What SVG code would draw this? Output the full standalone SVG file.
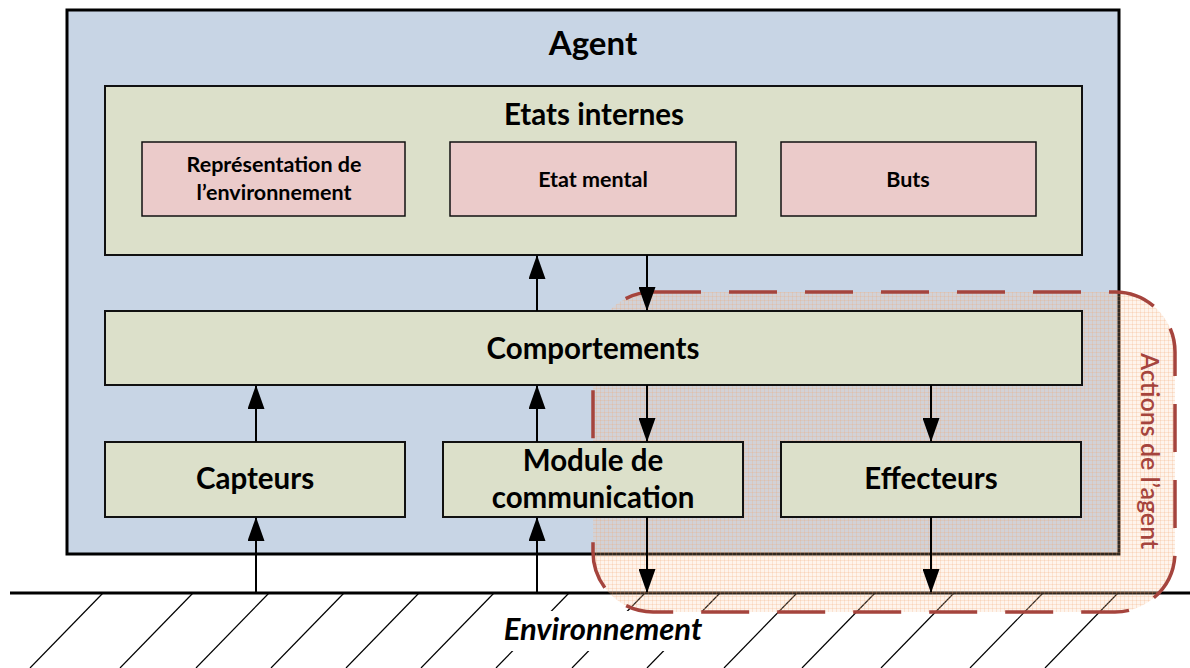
<svg xmlns="http://www.w3.org/2000/svg" width="1190" height="668" viewBox="0 0 1190 668">
<style>
.t{font-family:Lato,"Open Sans","Liberation Sans",sans-serif;font-weight:bold;fill:#000;text-anchor:middle}
.big{font-size:29.5px}
.sub{font-size:21.5px}
.box{fill:#DCE0CA;stroke:#111;stroke-width:2}
.pink{fill:#EBCBCA;stroke:#111;stroke-width:1.5}
.arr{stroke:#000;stroke-width:2;fill:none;marker-end:url(#ah)}
.hatch{stroke:#000;stroke-width:1.2}
</style>
<defs>
<marker id="ah" markerUnits="userSpaceOnUse" markerWidth="24" markerHeight="17" refX="23" refY="8.5" orient="auto" viewBox="0 0 24 17">
<path d="M0,0 L24,8.5 L0,17 Z" fill="#000"/>
</marker>
<pattern id="grid" width="4" height="4" patternUnits="userSpaceOnUse">
<rect width="4" height="4" fill="#F9C6A0" fill-opacity="0.20"/>
<path d="M0,0.5 H4 M0.5,0 V4" stroke="#F3A46C" stroke-width="1" stroke-opacity="0.22"/>
</pattern>
</defs>

<!-- ground -->
<g id="ground">
<line x1="10" y1="593" x2="1190" y2="593" stroke="#000" stroke-width="3"/>
<g class="hatch">
<line x1="103" y1="593" x2="30" y2="668"/>
<line x1="193" y1="593" x2="120" y2="668"/>
<line x1="269" y1="593" x2="196" y2="668"/>
<line x1="344" y1="593" x2="271" y2="668"/>
<line x1="419" y1="593" x2="346" y2="668"/>
<line x1="494" y1="593" x2="421" y2="668"/>
<line x1="569" y1="593" x2="496" y2="668"/>
<line x1="645" y1="593" x2="572" y2="668"/>
<line x1="720" y1="593" x2="647" y2="668"/>
<line x1="797" y1="593" x2="724" y2="668"/>
<line x1="875" y1="593" x2="802" y2="668"/>
<line x1="954" y1="593" x2="881" y2="668"/>
<line x1="1043" y1="593" x2="970" y2="668"/>
<line x1="1118" y1="593" x2="1045" y2="668"/>
</g>
<rect x="490" y="611" width="224" height="40" fill="#fff"/>
<text class="t" x="603" y="640" font-size="31px" font-style="italic" font-weight="900">Environnement</text>
</g>

<!-- agent -->
<g id="agent">
<rect x="67" y="10" width="1052" height="544" fill="#C8D5E5" stroke="#000" stroke-width="3"/>
<text class="t" x="593" y="55" font-size="33px">Agent</text>
</g>

<!-- actions region -->
<g id="actions">
<rect x="593" y="292" width="582" height="320" rx="60" ry="60" fill="url(#grid)" stroke="#A5443D" stroke-width="3.5" stroke-dasharray="48 28"/>
</g>

<g id="etats">
<rect class="box" x="105" y="86" width="977" height="169"/>
<text class="t big" x="594" y="125">Etats internes</text>
</g>
<g id="representation">
<rect class="pink" x="142" y="142" width="263" height="74"/>
<text class="t sub" x="274" y="172">Représentation de</text>
<text class="t sub" x="274" y="200">l’environnement</text>
</g>
<g id="etat-mental">
<rect class="pink" x="450" y="142" width="286" height="74"/>
<text class="t sub" x="593" y="187">Etat mental</text>
</g>
<g id="buts">
<rect class="pink" x="781" y="142" width="255" height="74"/>
<text class="t sub" x="908" y="187">Buts</text>
</g>
<g id="comportements">
<rect class="box" x="105" y="311" width="977" height="74"/>
<text class="t big" x="593" y="359">Comportements</text>
</g>
<g id="capteurs">
<rect class="box" x="105" y="442" width="300" height="75"/>
<text class="t big" x="255" y="489">Capteurs</text>
</g>
<g id="module">
<rect class="box" x="443" y="442" width="300" height="75"/>
<text class="t big" x="593" y="471">Module de</text>
<text class="t big" x="593" y="508">communication</text>
</g>
<g id="effecteurs">
<rect class="box" x="781" y="442" width="300" height="75"/>
<text class="t big" x="931" y="489">Effecteurs</text>
</g>

<g id="connectors">
<line class="arr" x1="256" y1="593" x2="256" y2="518"/>
<line class="arr" x1="256" y1="442" x2="256" y2="386"/>
<line class="arr" x1="537" y1="593" x2="537" y2="518"/>
<line class="arr" x1="537" y1="442" x2="537" y2="386"/>
<line class="arr" x1="537" y1="311" x2="537" y2="256"/>
<line class="arr" x1="647" y1="255" x2="647" y2="310"/>
<line class="arr" x1="647" y1="385" x2="647" y2="441"/>
<line class="arr" x1="931" y1="385" x2="931" y2="441"/>
<line class="arr" x1="647" y1="517" x2="647" y2="592"/>
<line class="arr" x1="931" y1="517" x2="931" y2="592"/>
</g>

<g id="actions-label">
<text transform="translate(1141,451) rotate(90)" x="0" y="0" font-family="Lato,'Open Sans','Liberation Sans',sans-serif" font-size="25px" fill="#A5443D" text-anchor="middle" font-weight="600">Actions de l’agent</text>
</g>
</svg>
